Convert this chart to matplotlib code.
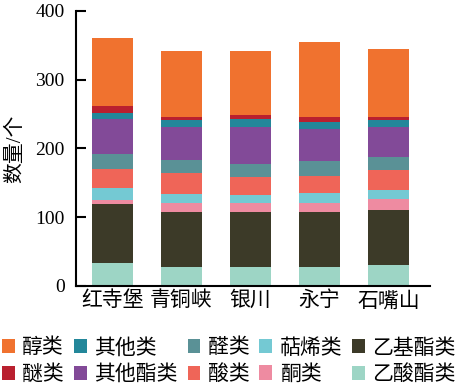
import matplotlib
matplotlib.use("Agg")
import matplotlib.pyplot as plt
import numpy as np

plt.rcParams['font.family'] = ['Liberation Serif', 'Noto Sans CJK SC']

sites = ['红寺堡', '青铜峡', '银川', '永宁', '石嘴山']

# stacked from bottom to top
yisuanzhi = [33, 27, 27, 27, 30]      # 乙酸酯类
yijizhi = [86, 81, 81, 81, 81]        # 乙基酯类
tong = [6, 12, 12, 12, 15]            # 酮类
tiexi = [18, 14, 12, 15, 13]          # 萜烯类
suan = [27, 30, 27, 25, 30]           # 酸类
quan = [22, 19, 19, 21, 18]           # 醛类
qitazhi = [51, 48, 53, 47, 44]        # 其他酯类
qita = [8, 10, 12, 11, 10]            # 其他类
mi = [10, 4, 5, 6, 5]                 # 醚类
chun = [99, 97, 93, 109, 99]          # 醇类

series = [
    ('乙酸酯类', yisuanzhi, '#9dd5c5'),
    ('乙基酯类', yijizhi, '#3c3a28'),
    ('酮类', tong, '#ee8ba1'),
    ('萜烯类', tiexi, '#74c9d3'),
    ('酸类', suan, '#ef6558'),
    ('醛类', quan, '#5a9196'),
    ('其他酯类', qitazhi, '#824a98'),
    ('其他类', qita, '#23879a'),
    ('醚类', mi, '#b9202f'),
    ('醇类', chun, '#f0722f'),
]

fig = plt.figure(figsize=(4.6, 3.87), dpi=100)
ax = fig.add_axes([0.165, 0.261, 0.77, 0.711])

x = np.arange(len(sites))
bottom = np.zeros(len(sites))
handles = {}
for name, vals, col in series:
    b = ax.bar(x, vals, 0.6, bottom=bottom, color=col, label=name)
    handles[name] = b
    bottom += np.array(vals)

ax.set_xlim(-0.53, 4.6)
ax.set_ylim(0, 400)
ax.set_yticks([0, 100, 200, 300, 400])
ax.set_xticks(x)
ax.set_xticklabels(sites, fontsize=15)
ax.tick_params(axis='y', labelsize=14, length=7, width=1.5, direction='in', pad=8)
ax.tick_params(axis='x', length=0, pad=4)
ax.spines['top'].set_visible(False)
ax.spines['right'].set_visible(False)
ax.spines['left'].set_linewidth(1.5)
ax.spines['bottom'].set_linewidth(1.5)
ax.set_ylabel('数量/个', fontsize=15, labelpad=7)

order = ['醇类', '醚类', '其他类', '其他酯类', '醛类', '酸类', '萜烯类', '酮类', '乙基酯类', '乙酸酯类']
fig.legend([handles[n] for n in order], order, ncol=5, loc='upper left',
           bbox_to_anchor=(0.004, 0.125), frameon=False, fontsize=15,
           handlelength=0.62, handleheight=0.7, handletextpad=0.35,
           columnspacing=0.48, labelspacing=0.33, borderpad=0, borderaxespad=0)

fig.savefig('out.png', dpi=100)
